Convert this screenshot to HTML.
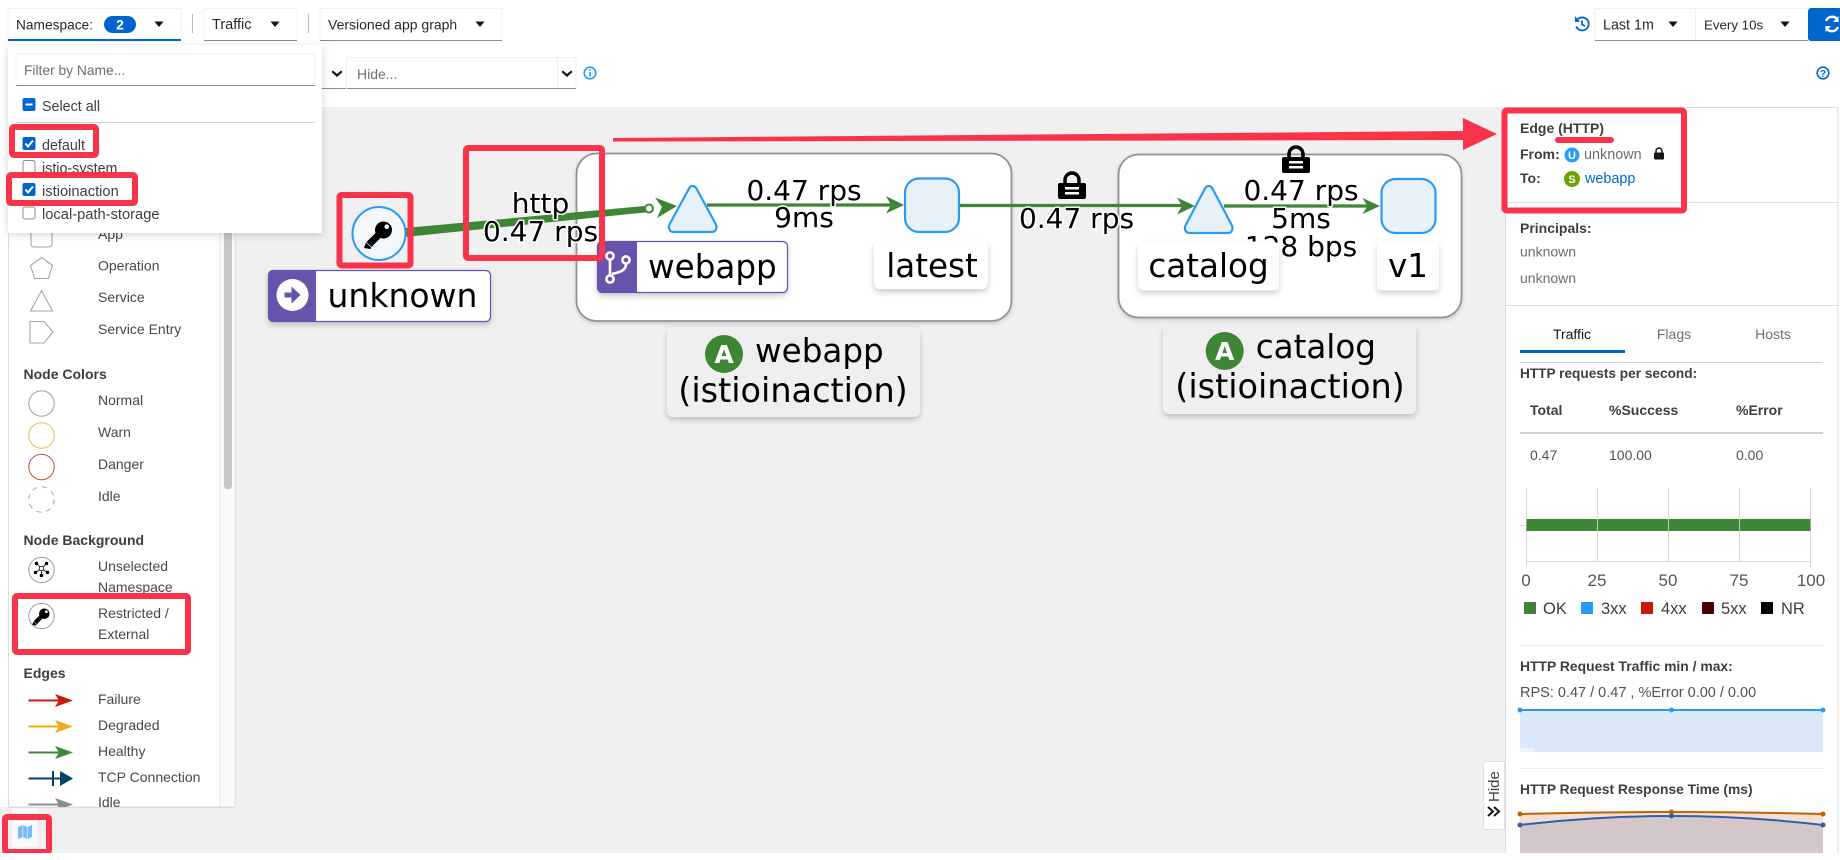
<!DOCTYPE html>
<html lang="en"><head><meta charset="utf-8"><title>Kiali graph</title>
<style>
html,body{margin:0;padding:0;background:#fff;width:1840px;height:860px;overflow:hidden}
svg{display:block}
text{font-family:"Liberation Sans",sans-serif;font-size:14px;fill:#45484b}
.b{font-weight:700;fill:#3c3f42;font-size:14px}
.g{fill:#6a6e73}
.l{fill:#26282a;font-size:14px}
.d{font-family:"DejaVu Sans",sans-serif;fill:#000;font-size:32.6px}
.e{font-family:"DejaVu Sans",sans-serif;fill:#000;font-size:28px;text-anchor:middle;paint-order:stroke;stroke:#fff;stroke-width:3px;stroke-linejoin:round}
.m{text-anchor:middle}
.r{fill:none;stroke:#f93349;stroke-width:6px;stroke-linejoin:round}
.sh{fill:none;stroke:#a3a5a8;stroke-width:1.1}
.n{fill:#e7f1fa;stroke:#2b9af3;stroke-width:2.2;stroke-linejoin:round}
.grid{stroke:#d8d8d8;stroke-width:1}
</style></head>
<body>
<svg xmlns="http://www.w3.org/2000/svg" width="1840" height="860" viewBox="0 0 1840 860">
<defs>
<filter id="s" x="-20%" y="-20%" width="140%" height="150%"><feDropShadow dx="0" dy="3" stdDeviation="3" flood-color="#000" flood-opacity=".2"/></filter>
<filter id="g" x="-5%" y="-5%" width="110%" height="112%"><feDropShadow dx="0" dy="2" stdDeviation="2" flood-color="#000" flood-opacity=".15"/></filter>
<filter id="p" x="-10%" y="-10%" width="120%" height="120%"><feDropShadow dx="0" dy="2" stdDeviation="4" flood-color="#000" flood-opacity=".16"/></filter>
<g id="lock"><path d="M7 13V8a7 7 0 0 1 14 0v5" fill="none" stroke="#000" stroke-width="3.500"/><rect x="0" y="11" width="28" height="16" rx="2" fill="#000"/><rect x="7" y="15" width="14" height="2.500" fill="#fff"/><rect x="7" y="20" width="14" height="2.500" fill="#fff"/></g>
<g id="key"><circle cx="4.500" cy="-4.500" r="8.500" fill="#000"/><path d="M4 -4L-10 10" stroke="#000" stroke-width="7" fill="none"/><path d="M-13 8l5.500 5.500-1.500 1-6-1z" fill="#000"/><circle cx="7.800" cy="-7.800" r="2.300" fill="#fff"/></g>
<path id="caret" d="M-4.500-2.500h9L0 3z" fill="#151515"/>
<path id="chev" d="M-4-2l4 3.500L4-2l1.500 1.500L0 4.500-5.500-.5z" fill="#151515"/>
</defs>

<!-- gray graph area -->
<rect x="235" y="107" width="1270" height="746" fill="#f0f0f0"/>
<rect x="0" y="807" width="1505" height="46" fill="#f0f0f0"/>

<!-- legend panel -->
<rect x="8.500" y="120" width="227" height="687" fill="#fff" stroke="#dcdcdc"/>
<rect x="220" y="120" width="15" height="687" fill="#fafafa" stroke="#e8e8e8"/>
<rect x="224" y="225" width="8" height="264" rx="3" fill="#c6c6c6"/>

<rect x="31" y="222" width="21" height="25" rx="3" class="sh"/>
<text x="98" y="239">App</text>
<path d="M41.500 257.500l11 8-4.200 13h-13.600l-4.200-13z" class="sh"/>
<text x="98" y="270.500">Operation</text>
<path d="M41.500 290.500l11 20.500h-22z" class="sh"/>
<text x="98" y="302">Service</text>
<path d="M30 321.500h14l9 10.500-9 11H30z" class="sh"/>
<text x="98" y="334">Service Entry</text>

<text class="b" x="23.500" y="379">Node Colors</text>
<circle cx="41.500" cy="403.500" r="12.700" class="sh"/>
<text x="98" y="405">Normal</text>
<circle cx="41.500" cy="435.500" r="12.700" fill="none" stroke="#ebbd52" stroke-width="1"/>
<text x="98" y="437">Warn</text>
<circle cx="41.500" cy="467" r="12.700" fill="none" stroke="#cc4a40" stroke-width="1"/>
<text x="98" y="469">Danger</text>
<circle cx="41.500" cy="499.500" r="12.700" fill="none" stroke="#a3a5a8" stroke-width="1" stroke-dasharray="5 5"/>
<text x="98" y="501">Idle</text>

<text class="b" x="23.500" y="545">Node Background</text>
<circle cx="41.500" cy="570" r="12.700" class="sh"/>
<g stroke="#000" stroke-width=".8" fill="#000"><path d="M41.500 568.500l-5-5M41.500 568.500l5-5M41.500 568.500l-6 4M41.500 568.500l6 4M41.500 568.500v7" fill="none"/><circle cx="36.500" cy="563.500" r="1.300"/><circle cx="46.500" cy="563.500" r="1.300"/><circle cx="35.500" cy="572.500" r="1.300"/><circle cx="47.500" cy="572.500" r="1.300"/><circle cx="41.500" cy="575.500" r="1.300"/><circle cx="41.500" cy="568.500" r="2.300" fill="#fff"/></g>
<text x="98" y="571">Unselected</text>
<text x="98" y="592">Namespace</text>
<circle cx="41.500" cy="616" r="12.700" class="sh"/>
<use href="#key" transform="translate(41.500 616.500) scale(.62)"/>
<text x="98" y="618">Restricted /</text>
<text x="98" y="639">External</text>

<text class="b" x="23.500" y="678">Edges</text>
<path d="M28.500 700.500H62" stroke="#c9190b" stroke-width="2" fill="none"/><path d="M55 694l18 6.500-18 6.500 4-6.500z" fill="#c9190b"/>
<text x="98" y="704">Failure</text>
<path d="M28.500 726.500H62" stroke="#f0ab00" stroke-width="2" fill="none"/><path d="M55 720l18 6.500-18 6.500 4-6.500z" fill="#eeaa22"/>
<text x="98" y="730">Degraded</text>
<path d="M28.500 752.500H62" stroke="#3e8635" stroke-width="2" fill="none"/><path d="M55 746l18 6.500-18 6.500 4-6.500z" fill="#3e8635"/>
<text x="98" y="756">Healthy</text>
<path d="M28.500 778.500H62M53 771v15" stroke="#004368" stroke-width="2" fill="none"/><path d="M60 771l13 7.500-13 7.500z" fill="#004368"/>
<text x="98" y="782">TCP Connection</text>
<path d="M28.500 804.500H62" stroke="#8a8d90" stroke-width="2" fill="none"/><path d="M55 798l18 6.500-18 6.500 4-6.500z" fill="#8a8d90"/>
<text x="98" y="807">Idle</text>
<rect x="0" y="807.500" width="236" height="46" fill="#f0f0f0"/>
<path d="M9 807.500h226" stroke="#dcdcdc"/>

<!-- map button -->
<rect x="12" y="808" width="26" height="39" fill="#fafafa"/>
<path d="M18 827l4.500-2 5 2 4.500-2v12l-4.500 2-5-2-4.500 2z" fill="#73bcf7"/>
<path d="M22.800 825v12M27.300 827v12" stroke="#d8ecfb" stroke-width=".8"/>
<rect x="5" y="817" width="44" height="35" rx="2" class="r"/>

<!-- graph: webapp group -->
<rect x="576.500" y="153.500" width="435" height="167.500" rx="20" fill="#fff" stroke="#909295" stroke-width="1.800" filter="url(#g)"/>
<!-- catalog group -->
<rect x="1118.500" y="154.500" width="343" height="163" rx="20" fill="#fff" stroke="#909295" stroke-width="1.800" filter="url(#g)"/>

<!-- edges -->
<path d="M405 228L650 205.500V212L405 237z" fill="#3e8635"/>
<path d="M655 197.500L677 206 657 218 662 207z" fill="#3e8635"/>
<circle cx="649" cy="208.500" r="4" fill="#fff" stroke="#3e8635" stroke-width="2"/>

<path d="M707 205H892" stroke="#3e8635" stroke-width="3.200"/>
<path d="M886 196L904 205 886 213.500 891 205z" fill="#3e8635"/>
<path d="M960 205.500H1182" stroke="#3e8635" stroke-width="3.200"/>
<path d="M1177 197.500L1195 206 1177 214.500 1182 206z" fill="#3e8635"/>
<path d="M1224 206H1368" stroke="#3e8635" stroke-width="3.200"/>
<path d="M1362.500 198L1380 206 1362.500 214 1367.500 206z" fill="#3e8635"/>

<!-- nodes -->
<circle cx="379" cy="233.500" r="26.500" fill="#f4f8fc" stroke="#2b9af3" stroke-width="2"/>
<use href="#key" transform="translate(379 234.500)"/>
<path d="M692.700 186c2 0 3 1 4 3l19 35c2 4 0 8-4 8h-38c-4 0-6-4-4-8l19-35c1-2 2-3 4-3z" class="n"/>
<rect x="905" y="178.500" width="54" height="53.500" rx="14" class="n"/>
<path d="M1208.700 186c2 0 3 1 4 3l19 36c2 4 0 8-4 8h-38c-4 0-6-4-4-8l19-36c1-2 2-3 4-3z" class="n"/>
<rect x="1381.500" y="179" width="54" height="54" rx="14" class="n"/>

<!-- edge labels -->
<text class="e" x="540.500" y="213">http</text>
<text class="e" x="540.500" y="241">0.47 rps</text>
<text class="e" x="804" y="200">0.47 rps</text>
<text class="e" x="804" y="227">9ms</text>
<use href="#lock" x="1058" y="172"/>
<text class="e" x="1076.500" y="228">0.47 rps</text>
<use href="#lock" x="1282" y="146"/>
<text class="e" x="1301" y="200">0.47 rps</text>
<text class="e" x="1301" y="228">5ms</text>
<text class="e" x="1301" y="256">128 bps</text>

<!-- node labels -->
<g filter="url(#s)">
<rect x="268.500" y="270.500" width="222" height="51" rx="5" fill="#fff" stroke="#6753ac" stroke-width="1.200"/>
<path d="M273 270h43v52h-43a5 5 0 0 1-5-5v-42a5 5 0 0 1 5-5z" fill="#6753ac"/>
</g>
<circle cx="292.500" cy="295" r="16" fill="#fff"/>
<path d="M284.500 292.500h7v-6l9 8.500-9 8.500v-6h-7z" fill="#6753ac"/>
<text class="d" x="327.500" y="307" style="font-size:33px">unknown</text>

<g filter="url(#s)">
<rect x="597.500" y="241.500" width="190" height="51" rx="5" fill="#fff" stroke="#6753ac" stroke-width="1.200"/>
<path d="M602 241h35v52h-35a5 5 0 0 1-5-5v-42a5 5 0 0 1 5-5z" fill="#6753ac"/>
</g>
<g fill="none" stroke="#fff" stroke-width="2.600"><circle cx="610" cy="256" r="3.600"/><circle cx="626" cy="260" r="3.600"/><circle cx="610" cy="279" r="3.600"/><path d="M610 260v15M626 264c0 6-5 8-14 10"/></g>
<text class="d" x="648" y="278">webapp</text>

<rect x="874" y="241" width="114" height="48" rx="6" fill="#fff" filter="url(#s)"/>
<text class="d m" x="932" y="277">latest</text>
<rect x="1138" y="241.500" width="141" height="49" rx="6" fill="#fff" filter="url(#s)"/>
<text class="d m" x="1208.500" y="277">catalog</text>
<rect x="1377" y="241.500" width="62" height="49" rx="6" fill="#fff" filter="url(#s)"/>
<text class="d m" x="1408" y="277">v1</text>

<!-- group labels -->
<rect x="667" y="327" width="253" height="90" rx="6" fill="#efefef" filter="url(#s)"/>
<circle cx="724" cy="354" r="19" fill="#3e8635"/>
<text x="724" y="363" class="m" style="font-family:'DejaVu Sans',sans-serif;font-size:25px;font-weight:700;fill:#fff">A</text>
<text class="d" x="755" y="362">webapp</text>
<text class="d m" x="793" y="402" style="font-size:33.5px">(istioinaction)</text>

<rect x="1163" y="324" width="253" height="90" rx="6" fill="#efefef" filter="url(#s)"/>
<circle cx="1224.700" cy="351" r="19" fill="#3e8635"/>
<text x="1224.700" y="360" class="m" style="font-family:'DejaVu Sans',sans-serif;font-size:25px;font-weight:700;fill:#fff">A</text>
<text class="d" x="1255.700" y="358">catalog</text>
<text class="d m" x="1290" y="398" style="font-size:33.5px">(istioinaction)</text>

<!-- annotations in graph -->
<rect x="339.500" y="195" width="71" height="70.500" rx="2" class="r"/>
<rect x="466" y="148" width="136" height="110" rx="2" class="r"/>
<path d="M613 138L1463 131V118L1497 134 1463 150V140L613 141.500z" fill="#f93349"/>

<!-- right panel -->
<rect x="1505.500" y="107.500" width="332.500" height="746" fill="#fff" stroke="#dcdcdc"/>
<text class="b" x="1520" y="133">Edge (HTTP)</text>
<path d="M1558 140H1611" stroke="#f93349" stroke-width="6" stroke-linecap="round"/>
<text class="b" x="1520" y="159">From:</text>
<circle cx="1572" cy="155" r="7.500" fill="#2b9af3"/><text x="1572" y="159" class="m" style="font-size:11px;font-weight:700;fill:#fff">U</text>
<text x="1584" y="159" class="g" style="font-size:14.400px">unknown</text>
<path d="M1656 153v-2a3 3 0 0 1 6 0v2" fill="none" stroke="#151515" stroke-width="1.500"/><rect x="1654" y="152.500" width="10" height="7" rx="1" fill="#151515"/>
<text class="b" x="1520" y="183">To:</text>
<circle cx="1572" cy="179" r="8" fill="#6ca100"/><text x="1572" y="183" class="m" style="font-size:11px;font-weight:700;fill:#fff">S</text>
<text x="1585" y="183" style="fill:#06c;font-size:14.400px">webapp</text>
<path d="M1505 202.500H1838" stroke="#dcdcdc"/>
<text class="b" x="1520" y="233">Principals:</text>
<text x="1520" y="256.500" class="g">unknown</text>
<text x="1520" y="283" class="g">unknown</text>
<path d="M1505 305.500H1838" stroke="#dcdcdc"/>
<text x="1572" y="339" class="m" style="fill:#151515">Traffic</text>
<text x="1674" y="339" class="m g">Flags</text>
<text x="1773" y="339" class="m g">Hosts</text>
<rect x="1520" y="350" width="105" height="3" fill="#06c"/>
<path d="M1520 362.500H1823" stroke="#d2d2d2"/>
<text class="b" x="1520" y="378" style="font-size:13.650px">HTTP requests per second:</text>
<text class="b" x="1530" y="415">Total</text>
<text class="b" x="1609" y="415">%Success</text>
<text class="b" x="1736" y="415">%Error</text>
<rect x="1520" y="432" width="303" height="2" fill="#d2d2d2"/>
<text x="1530" y="460" style="fill:#4f5255">0.47</text>
<text x="1609" y="460" style="fill:#4f5255">100.00</text>
<text x="1736" y="460" style="fill:#4f5255">0.00</text>

<!-- bar chart -->
<path d="M1526.500 488V567M1597.500 488V562M1668.500 488V562M1739.500 488V562M1810.500 488V567M1520 525.500H1526M1526 561.500H1811" class="grid" fill="none"/>
<rect x="1526.500" y="519" width="284" height="12" fill="#3e8635"/>
<path d="M1597.500 519v12M1668.500 519v12M1739.500 519v12" stroke="#b8d2b4"/>
<text x="1526" y="586" class="m" style="font-size:17px;fill:#555">0</text>
<text x="1597" y="586" class="m" style="font-size:17px;fill:#555">25</text>
<text x="1668" y="586" class="m" style="font-size:17px;fill:#555">50</text>
<text x="1739" y="586" class="m" style="font-size:17px;fill:#555">75</text>
<text x="1811" y="586" class="m" style="font-size:17px;fill:#555">100</text>
<rect x="1524" y="602" width="12" height="12" fill="#3e8635"/><text x="1543" y="614" style="font-size:16.500px;fill:#3c3f42">OK</text>
<rect x="1581" y="602" width="12" height="12" fill="#2b9af3"/><text x="1601" y="614" style="font-size:16.500px;fill:#3c3f42">3xx</text>
<rect x="1641" y="602" width="12" height="12" fill="#c9190b"/><text x="1661" y="614" style="font-size:16.500px;fill:#3c3f42">4xx</text>
<rect x="1702" y="602" width="12" height="12" fill="#470000"/><text x="1721" y="614" style="font-size:16.500px;fill:#3c3f42">5xx</text>
<rect x="1761" y="602" width="12" height="12" fill="#000"/><text x="1781" y="614" style="font-size:16.500px;fill:#3c3f42">NR</text>
<path d="M1520 645.500H1824" stroke="#ececec"/>
<text class="b" x="1520" y="671" style="font-size:13.900px">HTTP Request Traffic min / max:</text>
<text x="1520" y="697" style="fill:#4f5255;font-size:14.500px">RPS: 0.47 / 0.47 , %Error 0.00 / 0.00</text>
<rect x="1520" y="710" width="303" height="42" fill="#dbe8f8"/>
<rect x="1520" y="748" width="15" height="4" fill="#eef3fb"/>
<path d="M1520 710H1823" stroke="#2b9af3" stroke-width="2"/>
<circle cx="1520" cy="710" r="2.500" fill="#2b9af3"/><circle cx="1671.500" cy="710" r="2.500" fill="#2b9af3"/><circle cx="1823" cy="710" r="2.500" fill="#2b9af3"/>
<path d="M1520 768.500H1824" stroke="#ececec"/>
<text class="b" x="1520" y="794" style="font-size:13.800px">HTTP Request Response Time (ms)</text>
<path d="M1520 814Q1671.500 810 1823 814V853H1520z" fill="#f2dfd2"/>
<path d="M1520 825Q1671.500 807 1823 825V853H1520z" fill="#d4c7ca"/>
<path d="M1520 814Q1671.500 810 1823 814" stroke="#c46100" stroke-width="2" fill="none"/>
<path d="M1520 825Q1671.500 807 1823 825" stroke="#2f5fa8" stroke-width="2" fill="none"/>
<g fill="#c46100"><circle cx="1520" cy="814" r="2.500"/><circle cx="1671.500" cy="812" r="2.500"/><circle cx="1823" cy="814" r="2.500"/></g>
<g fill="#2f5fa8"><circle cx="1520" cy="825" r="2.500"/><circle cx="1671.500" cy="816" r="2.500"/><circle cx="1823" cy="825" r="2.500"/></g>
<rect x="0" y="853" width="1840" height="7" fill="#fff"/>

<!-- Hide tab -->
<rect x="1483.500" y="761.500" width="21" height="68" rx="2" fill="#fff" stroke="#e0e0e0"/>
<text transform="translate(1499 802) rotate(-90)" style="font-size:15px;fill:#3c3f42">Hide</text>
<path d="M1488 807l5 4.500-5 4.500M1494 807l5 4.500-5 4.500" fill="none" stroke="#151515" stroke-width="2"/>

<!-- panel red box -->
<rect x="1504.500" y="110.500" width="179.500" height="100" rx="2" class="r"/>

<!-- top toolbar -->
<path d="M8 8.500H181V41H8z" fill="#fff" stroke="#f2f2f2"/>
<rect x="8" y="39" width="173" height="2" fill="#06c"/>
<text x="16" y="29.500" class="l" textLength="77" lengthAdjust="spacingAndGlyphs">Namespace:</text>
<rect x="104" y="16" width="32" height="17" rx="8.500" fill="#06c"/>
<text x="120" y="29.500" class="m" style="font-weight:700;fill:#fff;font-size:14px">2</text>
<use href="#caret" x="159" y="24"/>
<path d="M192.500 14V33" stroke="#b8bbbe"/>
<path d="M204 8.500H297M204 8.500V40.500M297 8.500V40.500" stroke="#f2f2f2" fill="none"/><path d="M204 40.500H297" stroke="#8a8d90"/>
<text x="212" y="29" class="l" style="font-size:14.500px">Traffic</text>
<use href="#caret" x="275" y="24"/>
<path d="M308.500 14V33" stroke="#b8bbbe"/>
<path d="M320 8.500H502V40.500M320 8.500V40.500" stroke="#f2f2f2" fill="none"/><path d="M320 40.500H502" stroke="#8a8d90"/>
<text x="328" y="29.500" class="l">Versioned app graph</text>
<use href="#caret" x="480" y="24"/>

<!-- second row -->
<path d="M322 88.500H346M347 88.500H557M557 88.500H576" stroke="#8a8d90"/>
<path d="M347 57.500H576M346.500 57.500V88M557.500 57.500V88M576 57.500V88" stroke="#f0f0f0" fill="none"/>
<use href="#chev" x="337" y="72.500"/>
<use href="#chev" x="567" y="72.500"/>
<text x="357" y="79" class="g">Hide...</text>
<circle cx="590" cy="73" r="5.800" fill="none" stroke="#2b9af3" stroke-width="1.600"/><rect x="589.200" y="72" width="1.600" height="4.500" fill="#2b9af3"/><rect x="589.200" y="69" width="1.600" height="1.700" fill="#2b9af3"/>

<!-- namespace dropdown -->
<rect x="8" y="45" width="314" height="188" fill="#fff" filter="url(#p)"/>
<path d="M16 53.500H315V85M16 53.500V85" stroke="#f0f0f0" fill="none"/>
<path d="M16 85.500H315" stroke="#8a8d90"/>
<text x="24" y="75" class="g" style="font-size:13.800px">Filter by Name...</text>
<rect x="22.500" y="98" width="13" height="13" rx="2" fill="#06c"/><rect x="25.500" y="103.500" width="7" height="2" fill="#fff"/>
<text x="42" y="111" style="fill:#3c3f42;font-size:14.300px">Select all</text>
<path d="M16 122.500H315" stroke="#d2d2d2"/>
<rect x="22.500" y="137" width="13" height="13" rx="2" fill="#06c"/><path d="M25.500 143.500l2.500 3 5-6" stroke="#fff" stroke-width="2" fill="none"/>
<text x="42" y="150" style="fill:#3c3f42;font-size:14.300px">default</text>
<rect x="23" y="160.500" width="12" height="12" rx="2" fill="#fff" stroke="#8a8d90"/>
<text x="42" y="173" style="fill:#3c3f42;font-size:14.300px">istio-system</text>
<rect x="22.500" y="183" width="13" height="13" rx="2" fill="#06c"/><path d="M25.500 189.500l2.500 3 5-6" stroke="#fff" stroke-width="2" fill="none"/>
<text x="42" y="196" style="fill:#3c3f42;font-size:14.700px">istioinaction</text>
<rect x="23" y="207" width="12" height="12" rx="2" fill="#fff" stroke="#8a8d90"/>
<text x="42" y="219" style="fill:#3c3f42;font-size:14.700px">local-path-storage</text>

<rect x="12" y="127" width="84" height="28" rx="2" class="r"/>
<rect x="9" y="175" width="126" height="28" rx="2" class="r"/>
<rect x="15" y="596" width="173" height="56" rx="2" class="r"/>

<!-- right toolbar -->
<g fill="none" stroke="#06c" stroke-width="1.800"><path d="M1577 20a6.500 6.500 0 1 1-.8 6.500"/><path d="M1582 20.500v4l3 1.500"/></g><path d="M1575 16v6h5z" fill="#06c"/>
<path d="M1595 8.500H1808M1595 8.500V40.500M1695.500 8.500V40.500" stroke="#f0f0f0" fill="none"/><path d="M1595 40.500H1808" stroke="#8a8d90"/>
<text x="1603" y="29.500" class="l" style="font-size:14.300px">Last 1m</text>
<use href="#caret" x="1673" y="24"/>
<text x="1704" y="29.500" class="l" style="font-size:13.300px">Every 10s</text>
<use href="#caret" x="1785" y="24"/>
<path d="M1811 8h29v33h-29a3 3 0 0 1-3-3V11a3 3 0 0 1 3-3z" fill="#06c"/>
<g fill="none" stroke="#fff" stroke-width="2.400"><path d="M1826 21a6.500 6.500 0 0 1 10.500-2.500"/><path d="M1838 27a6.500 6.500 0 0 1-10.500 2.500"/></g><path d="M1833 22l5.500-6v6zM1831 26l-5.500 6v-6z" fill="#fff"/>
<circle cx="1823" cy="73" r="5.800" fill="none" stroke="#06c" stroke-width="1.600"/><text x="1823" y="77" class="m" style="font-size:10px;font-weight:700;fill:#06c">?</text>
</svg>
</body></html>
